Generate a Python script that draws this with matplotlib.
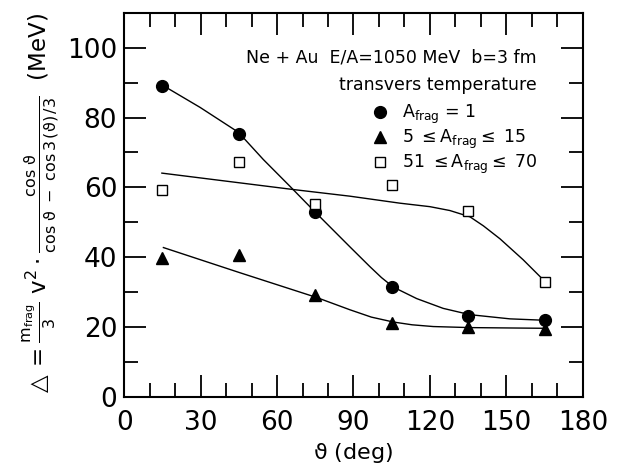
import matplotlib
matplotlib.use("Agg")
import matplotlib.pyplot as plt
from matplotlib.ticker import MultipleLocator

plt.rcParams["font.family"] = ["DejaVu Sans"]
plt.rcParams["mathtext.default"] = "regular"

# measured points
theta = [15, 45, 75, 105, 135, 165]
a1 = [89.0, 75.4, 53.0, 31.5, 23.2, 22.1]
a5_15 = [39.8, 40.6, 29.1, 21.1, 20.2, 19.5]
a51_70 = [59.2, 67.4, 55.4, 60.6, 53.2, 32.9]

# hand-drawn guide curves
c1_x = [15.4, 29.8, 44.8, 54.6, 65.1, 74.9, 88.6, 96.5, 101, 105.6, 114.8,
        125.2, 135.7, 151.4, 165]
c1_y = [89.1, 82.9, 75.8, 68.0, 60.3, 53.0, 43.0, 37.3, 34.2, 31.5, 28.2,
        25.4, 23.6, 22.4, 22.0]
c2_x = [15.4, 45, 75.6, 88.6, 97, 105.6, 113, 121.3, 135.7, 165]
c2_y = [42.8, 35.7, 28.5, 25.0, 22.9, 21.5, 20.7, 20.2, 19.9, 19.7]
c3_x = [14.8, 66.4, 88.6, 108.2, 120, 127.8, 135.7, 141, 147.5, 156.6, 165]
c3_y = [64.1, 59.4, 57.5, 55.5, 54.5, 53.4, 51.6, 49.0, 45.3, 39.3, 33.2]

fig = plt.figure(figsize=(6.24, 4.70), dpi=100)
ax = fig.add_axes([0.199, 0.155, 0.735, 0.818])

for cx, cy in ((c1_x, c1_y), (c2_x, c2_y), (c3_x, c3_y)):
    ax.plot(cx, cy, color="black", lw=1.0)

h1, = ax.plot(theta, a1, "o", color="black", ms=8.5, ls="none")
h2, = ax.plot(theta, a5_15, "^", color="black", ms=8.5, ls="none")
h3, = ax.plot(theta, a51_70, "s", mfc="white", mec="black", mew=1.0,
              ms=7, ls="none")

ax.set_xlim(0, 180)
ax.set_ylim(0, 110)
ax.xaxis.set_major_locator(MultipleLocator(30))
ax.xaxis.set_minor_locator(MultipleLocator(10))
ax.yaxis.set_major_locator(MultipleLocator(20))
ax.yaxis.set_minor_locator(MultipleLocator(10))
ax.tick_params(which="both", direction="in", top=True, right=True,
               width=1.3, labelsize=19)
ax.tick_params(which="major", length=16, pad=5)
ax.tick_params(which="minor", length=10)
ax.tick_params(axis="x", which="major", pad=9)
for s in ax.spines.values():
    s.set_linewidth(1.5)

ax.set_xlabel(r"$\vartheta$ (deg)", fontsize=16, labelpad=4)
ax.set_ylabel(r"$\triangle = \frac{m_{frag}}{3}\ v^{2}\cdot"
              r"\frac{\cos\,\vartheta}{\cos\,\vartheta\ -\ \cos3\,(\vartheta)\,/3}$"
              "  (MeV)", fontsize=16.5, labelpad=4)

ax.text(0.90, 0.883, "Ne + Au  E/A=1050 MeV  b=3 fm", transform=ax.transAxes,
        ha="right", va="center", fontsize=12.5)
ax.text(0.90, 0.812, "transvers temperature", transform=ax.transAxes,
        ha="right", va="center", fontsize=12.5)

ax.legend([h1, h2, h3],
          [r"$A_{frag}$ = 1", r"5 $\leq A_{frag} \leq$ 15",
           r"51 $\leq A_{frag} \leq$ 70"],
          loc="upper left", bbox_to_anchor=(0.523, 0.789), frameon=False,
          fontsize=12.5, handlelength=0.8, handletextpad=0.9,
          labelspacing=0.12, borderpad=0)

fig.savefig("out.png", dpi=100)
